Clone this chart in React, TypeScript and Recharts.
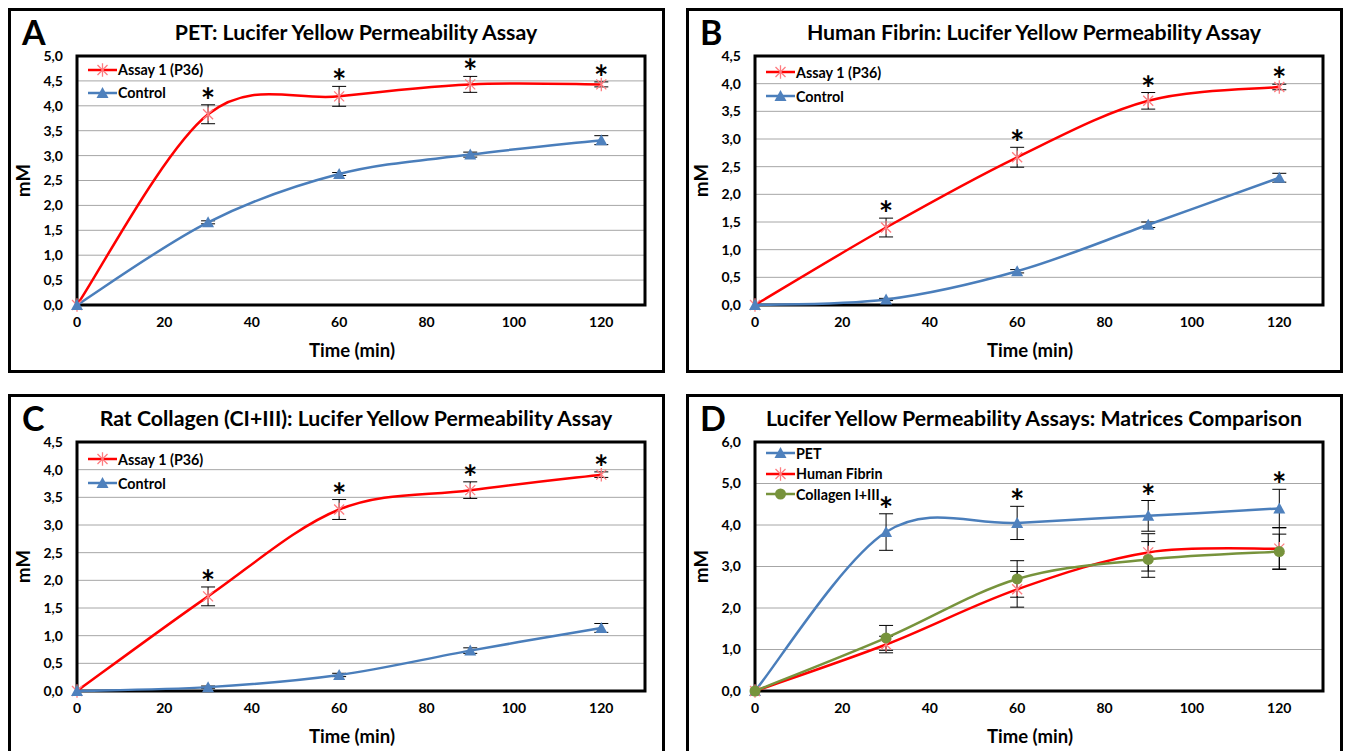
import React from 'react'
import { LineChart, Line, XAxis, YAxis, CartesianGrid, ReferenceArea, ErrorBar, LabelList } from 'recharts'

// time points (min)
const times = [0, 30, 60, 90, 120]
const timeTicks = [0, 20, 40, 60, 80, 100, 120]

// A - PET
const petAssay = [0, 3.83, 4.19, 4.43, 4.43]
const petAssayErr = [0, 0.19, 0.2, 0.16, 0.05]
const petControl = [0, 1.66, 2.63, 3.02, 3.31]
const petControlErr = [0, 0.03, 0.03, 0.05, 0.09]

// B - human fibrin
const fibrinAssay = [0, 1.4, 2.67, 3.69, 3.94]
const fibrinAssayErr = [0, 0.17, 0.18, 0.15, 0.05]
const fibrinControl = [0, 0.1, 0.61, 1.45, 2.3]
const fibrinControlErr = [0, 0.02, 0.03, 0.05, 0.08]

// C - rat collagen
const collagenAssay = [0, 1.71, 3.28, 3.63, 3.91]
const collagenAssayErr = [0, 0.17, 0.18, 0.15, 0.05]
const collagenControl = [0, 0.07, 0.29, 0.73, 1.14]
const collagenControlErr = [0, 0.02, 0.03, 0.05, 0.08]

// D - matrices comparison
const cmpPet = [0, 3.83, 4.05, 4.22, 4.4]
const cmpPetErr = [0, 0.44, 0.4, 0.37, 0.46]
const cmpFibrin = [0, 1.12, 2.45, 3.34, 3.43]
const cmpFibrinErr = [0, 0.2, 0.43, 0.45, 0.5]
const cmpCollagen = [0, 1.28, 2.7, 3.17, 3.36]
const cmpCollagenErr = [0, 0.3, 0.44, 0.43, 0.42]

const ticks45 = [0, 0.5, 1, 1.5, 2, 2.5, 3, 3.5, 4, 4.5]
const ticks50 = [0, 0.5, 1, 1.5, 2, 2.5, 3, 3.5, 4, 4.5, 5]
const ticks60 = [0, 1, 2, 3, 4, 5, 6]

const RED = '#ff0000'
const BLUE = '#4a7ebb'
const GREEN = '#77933c'
const FONT = 'Lato, "Open Sans", sans-serif'

// Excel style smoothed line (catmull-rom like bezier)
function excelCurve(context: any) {
  let pts: number[][] = []
  return {
    areaStart() {},
    areaEnd() {},
    lineStart() { pts = [] },
    point(x: number, y: number) { pts.push([+x, +y]) },
    lineEnd() {
      if (!pts.length) return
      context.moveTo(pts[0][0], pts[0][1])
      for (let i = 0; i < pts.length - 1; i++) {
        const p0 = pts[Math.max(i - 1, 0)]
        const p1 = pts[i]
        const p2 = pts[i + 1]
        const p3 = pts[Math.min(i + 2, pts.length - 1)]
        context.bezierCurveTo(
          p1[0] + (p2[0] - p0[0]) / 6, p1[1] + (p2[1] - p0[1]) / 6,
          p2[0] - (p3[0] - p1[0]) / 6, p2[1] - (p3[1] - p1[1]) / 6,
          p2[0], p2[1]
        )
      }
    },
  }
}

const starPath = (cx: number, cy: number, r: number) =>
  `M${cx - r},${cy - r}L${cx + r},${cy + r}M${cx - r},${cy + r}L${cx + r},${cy - r}M${cx},${cy - r * 1.35}L${cx},${cy + r * 1.35}`

function Marker({ kind, cx, cy }: { kind: string; cx: number; cy: number }) {
  if (kind === 'star') return <path d={starPath(cx, cy, 5)} stroke="#ff7c80" strokeWidth={1.3} fill="none" />
  if (kind === 'tri') return <path d={`M${cx},${cy - 6}L${cx + 6},${cy + 5}L${cx - 6},${cy + 5}Z`} fill="#4f81bd" />
  return <circle cx={cx} cy={cy} r={5.5} fill={GREEN} />
}

const dotFor = (kind: string) => (props: any) => {
  if (props.cx == null || props.cy == null) return <g key={props.index} />
  return <g key={props.index}><Marker kind={kind} cx={props.cx} cy={props.cy} /></g>
}

const Asterisk = (props: any) => {
  const { x, y, value } = props
  if (value == null || x == null) return null
  return (
    <text x={x} y={y + 8} textAnchor="middle" fontSize={34} fontWeight={700} fontFamily={FONT} fill="#000">*</text>
  )
}

interface SeriesDef {
  name: string
  values: number[]
  errors: number[]
  color: string
  marker: string
  starred?: boolean
}

interface PanelProps {
  left: number
  top: number
  letter: string
  title: string
  yMax: number
  yTicks: number[]
  series: SeriesDef[]
  legendTop: number
  legendRow: number
}

const fmt = (v: number) => v.toFixed(1).replace('.', ',')

function Panel({ left, top, letter, title, yMax, yTicks, series, legendTop, legendRow }: PanelProps) {
  const rows = times.map((t, i) => {
    const row: any = { t }
    series.forEach((s, k) => {
      row['v' + k] = s.values[i]
      row['e' + k] = s.errors[i]
      if (s.starred && i > 0) row['s' + k] = s.values[i] + s.errors[i]
    })
    return row
  })

  const tickStyle = { fill: '#000', fontSize: 14, fontWeight: 700, fontFamily: FONT }
  const axisTitle = { fontSize: 18.5, fontWeight: 700, fontFamily: FONT, fill: '#000' }

  return (
    <div style={{ position: 'absolute', left, top, width: 657, height: 365, border: '3px solid #000', boxSizing: 'border-box', background: '#fff' }}>
      <svg width={651} height={60} style={{ position: 'absolute', left: 0, top: 0 }}>
        <text x={11} y={34} fontSize={34} fontWeight={700} fontFamily={FONT} fill="#000">{letter}</text>
        <text x={345} y={29} fontSize={21.3} fontWeight={700} fontFamily={FONT} fill="#000" textAnchor="middle">{title}</text>
      </svg>
      <div style={{ position: 'absolute', left: 0, top: 0 }}>
        <LineChart width={651} height={359} data={rows} margin={{ top: 45, right: 17, left: 0, bottom: 0 }} style={{ fontFamily: FONT }}>
          <CartesianGrid vertical={false} stroke="#a6a6a6" />
          <XAxis
            type="number"
            dataKey="t"
            domain={[0, 130]}
            ticks={timeTicks}
            height={65}
            axisLine={false}
            tickLine={false}
            tickMargin={6}
            tick={tickStyle}
            label={{ value: 'Time (min)', position: 'center', dx: -9, dy: 13, ...axisTitle, style: axisTitle }}
          />
          <YAxis
            type="number"
            domain={[0, yMax]}
            ticks={yTicks}
            width={66}
            axisLine={false}
            tickLine={false}
            tickMargin={8}
            tickFormatter={fmt}
            tick={tickStyle}
            label={{ value: 'mM', angle: -90, position: 'center', dx: -21, ...axisTitle, style: axisTitle }}
          />
          <ReferenceArea x1={0} x2={130} y1={0} y2={yMax} fill="none" stroke="#000" strokeWidth={3} fillOpacity={0} />
          {series.map((s, k) => (
            <Line
              key={s.name}
              type={excelCurve as any}
              dataKey={'v' + k}
              name={s.name}
              stroke={s.color}
              strokeWidth={2.5}
              dot={dotFor(s.marker)}
              activeDot={false}
              isAnimationActive={false}
            >
              <ErrorBar dataKey={'e' + k} width={7} stroke="#000" strokeWidth={1} direction="y" />
            </Line>
          ))}
          {series.map((s, k) => s.starred ? (
            <Line
              key={'star' + k}
              dataKey={'s' + k}
              stroke="none"
              dot={false}
              activeDot={false}
              legendType="none"
              isAnimationActive={false}
            >
              <LabelList dataKey={'s' + k} content={Asterisk} />
            </Line>
          ) : null)}
        </LineChart>
      </div>
      <div style={{ position: 'absolute', left: 77, top: legendTop, fontFamily: FONT, fontWeight: 700, fontSize: 14.3, color: '#000' }}>
        {series.map((s) => (
          <div key={s.name} style={{ display: 'flex', alignItems: 'center', height: legendRow }}>
            <svg width={29} height={14} style={{ marginRight: 1 }}>
              <line x1={0} y1={7} x2={29} y2={7} stroke={s.color} strokeWidth={2.5} />
              <Marker kind={s.marker} cx={14.5} cy={7} />
            </svg>
            <span>{s.name}</span>
          </div>
        ))}
      </div>
    </div>
  )
}

export default function App() {
  return (
    <div style={{ position: 'fixed', left: 0, top: 0, width: 1347, height: 751, overflow: 'hidden', background: '#fff' }}>
      <Panel
        left={8}
        top={8}
        letter="A"
        title="PET: Lucifer Yellow Permeability Assay"
        yMax={5}
        yTicks={ticks50}
        legendTop={47}
        legendRow={23}
        series={[
          { name: 'Assay 1 (P36)', values: petAssay, errors: petAssayErr, color: RED, marker: 'star', starred: true },
          { name: 'Control', values: petControl, errors: petControlErr, color: BLUE, marker: 'tri' },
        ]}
      />
      <Panel
        left={686}
        top={8}
        letter="B"
        title="Human Fibrin: Lucifer Yellow Permeability Assay"
        yMax={4.5}
        yTicks={ticks45}
        legendTop={49}
        legendRow={24}
        series={[
          { name: 'Assay 1 (P36)', values: fibrinAssay, errors: fibrinAssayErr, color: RED, marker: 'star', starred: true },
          { name: 'Control', values: fibrinControl, errors: fibrinControlErr, color: BLUE, marker: 'tri' },
        ]}
      />
      <Panel
        left={8}
        top={394}
        letter="C"
        title="Rat Collagen (CI+III): Lucifer Yellow Permeability Assay"
        yMax={4.5}
        yTicks={ticks45}
        legendTop={50}
        legendRow={24}
        series={[
          { name: 'Assay 1 (P36)', values: collagenAssay, errors: collagenAssayErr, color: RED, marker: 'star', starred: true },
          { name: 'Control', values: collagenControl, errors: collagenControlErr, color: BLUE, marker: 'tri' },
        ]}
      />
      <Panel
        left={686}
        top={394}
        letter="D"
        title="Lucifer Yellow Permeability Assays: Matrices Comparison"
        yMax={6}
        yTicks={ticks60}
        legendTop={46}
        legendRow={20.5}
        series={[
          { name: 'PET', values: cmpPet, errors: cmpPetErr, color: BLUE, marker: 'tri', starred: true },
          { name: 'Human Fibrin', values: cmpFibrin, errors: cmpFibrinErr, color: RED, marker: 'star' },
          { name: 'Collagen I+III', values: cmpCollagen, errors: cmpCollagenErr, color: GREEN, marker: 'dot' },
        ]}
      />
    </div>
  )
}
